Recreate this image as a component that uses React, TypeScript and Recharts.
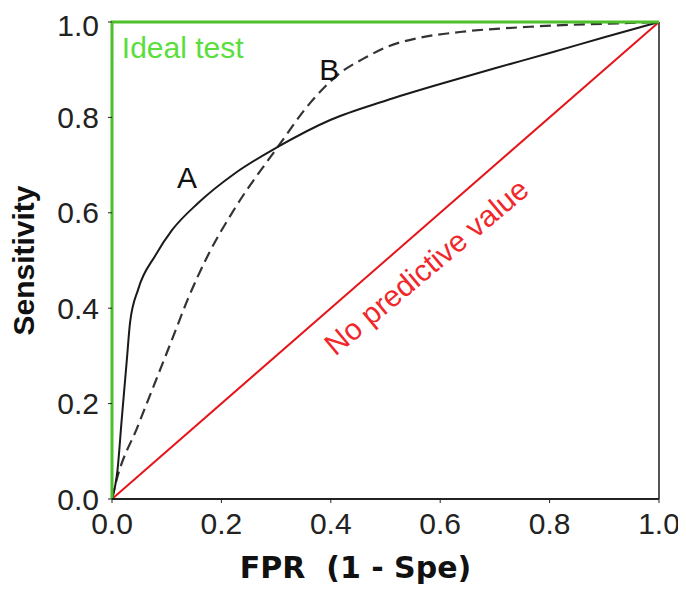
import { LineChart, Line, XAxis, YAxis, ReferenceLine, ReferenceDot, Label } from "recharts";

// ROC curves (FPR, sensitivity)
const curveA = [
  { x: 0, y: 0 }, { x: 0.01, y: 0.06 }, { x: 0.018, y: 0.17 }, { x: 0.027, y: 0.29 },
  { x: 0.033, y: 0.37 }, { x: 0.048, y: 0.44 }, { x: 0.079, y: 0.51 }, { x: 0.11, y: 0.564 },
  { x: 0.157, y: 0.62 }, { x: 0.225, y: 0.683 }, { x: 0.303, y: 0.738 }, { x: 0.4, y: 0.795 },
  { x: 0.5, y: 0.835 }, { x: 0.6, y: 0.87 }, { x: 0.7, y: 0.903 }, { x: 0.8, y: 0.935 },
  { x: 0.9, y: 0.968 }, { x: 1, y: 1 },
];
const curveB = [
  { x: 0, y: 0 }, { x: 0.005, y: 0.025 }, { x: 0.048, y: 0.155 }, { x: 0.079, y: 0.245 },
  { x: 0.11, y: 0.335 }, { x: 0.139, y: 0.42 }, { x: 0.175, y: 0.51 }, { x: 0.225, y: 0.61 },
  { x: 0.303, y: 0.738 }, { x: 0.362, y: 0.83 }, { x: 0.417, y: 0.893 }, { x: 0.466, y: 0.927 },
  { x: 0.503, y: 0.948 }, { x: 0.558, y: 0.966 }, { x: 0.636, y: 0.979 }, { x: 0.764, y: 0.99 },
  { x: 0.947, y: 0.998 }, { x: 1, y: 1 },
];
const idealTest = [{ x: 0, y: 0 }, { x: 0, y: 1 }, { x: 1, y: 1 }];
const noValue = [{ x: 0, y: 0 }, { x: 1, y: 1 }];
const ticks = [0, 0.2, 0.4, 0.6, 0.8, 1];

const sans = "'Liberation Sans', Arial, sans-serif";

function note(text: string, color: string, anchor: string, angle = 0) {
  return (p: any) => {
    const vb = p.viewBox || {};
    return (
      <text
        x={vb.x}
        y={vb.y}
        fill={color}
        fontSize={30}
        fontFamily={sans}
        textAnchor={anchor}
        transform={angle ? `rotate(${angle}, ${vb.x}, ${vb.y})` : undefined}
      >
        {text}
      </text>
    );
  };
}

export default function App() {
  return (
    <LineChart width={678} height={580} margin={{ top: 14, right: 27, left: 0, bottom: 0 }}>
      <XAxis
        type="number"
        dataKey="x"
        domain={[0, 1]}
        ticks={ticks}
        tickFormatter={(v: number) => v.toFixed(1)}
        height={89}
        tickSize={4}
        tickMargin={10}
        axisLine={{ stroke: "#222", strokeWidth: 2 }}
        tickLine={{ stroke: "#222" }}
        tick={{ fill: "#222", fontSize: 30, fontFamily: sans }}
      >
        <Label
          content={(p: any) => {
            const vb = p.viewBox;
            return (
              <text
                x={vb.x + vb.width / 2 - 30}
                y={vb.y + 79}
                textAnchor="middle"
                fontSize={30}
                fontWeight="bold"
                fontFamily="'DejaVu Sans', sans-serif"
                fill="#111"
                style={{ whiteSpace: "pre" }}
              >
                FPR  (1 - Spe)
              </text>
            );
          }}
        />
      </XAxis>
      <YAxis
        type="number"
        dataKey="y"
        domain={[0, 1]}
        ticks={ticks}
        tickFormatter={(v: number) => v.toFixed(1)}
        width={104}
        tickSize={4}
        tickMargin={9}
        axisLine={false}
        tickLine={{ stroke: "#222" }}
        tick={{ fill: "#222", fontSize: 30, fontFamily: sans }}
      >
        <Label
          content={(p: any) => {
            const vb = p.viewBox;
            const cx = vb.x + 26;
            const cy = vb.y + vb.height / 2;
            return (
              <text
                x={cx}
                y={cy}
                textAnchor="middle"
                fontSize={30}
                fontWeight="bold"
                fontFamily={sans}
                fill="#111"
                transform={`rotate(-90, ${cx}, ${cy})`}
              >
                Sensitivity
              </text>
            );
          }}
        />
      </YAxis>
      <ReferenceLine x={1} stroke="#555" strokeWidth={2} />
      <Line data={noValue} dataKey="y" type="linear" stroke="#e4161c" strokeWidth={2} dot={false} isAnimationActive={false} />
      <Line data={curveB} dataKey="y" type="monotone" stroke="#333" strokeWidth={2.2} strokeDasharray="11 6" dot={false} isAnimationActive={false} />
      <Line data={curveA} dataKey="y" type="monotone" stroke="#1a1a1a" strokeWidth={2} dot={false} isAnimationActive={false} />
      <Line data={idealTest} dataKey="y" type="linear" stroke="#4cbf2a" strokeWidth={3} dot={false} isAnimationActive={false} />
      <ReferenceDot x={0.018} y={0.925} r={0} fill="none" stroke="none" label={note("Ideal test", "#5ade3c", "start")} />
      <ReferenceDot x={0.137} y={0.652} r={0} fill="none" stroke="none" label={note("A", "#111", "middle")} />
      <ReferenceDot x={0.397} y={0.878} r={0} fill="none" stroke="none" label={note("B", "#111", "middle")} />
      <ReferenceDot x={0.587} y={0.47} r={0} fill="none" stroke="none" label={note("No predictive value", "#f0282c", "middle", -40)} />
    </LineChart>
  );
}
